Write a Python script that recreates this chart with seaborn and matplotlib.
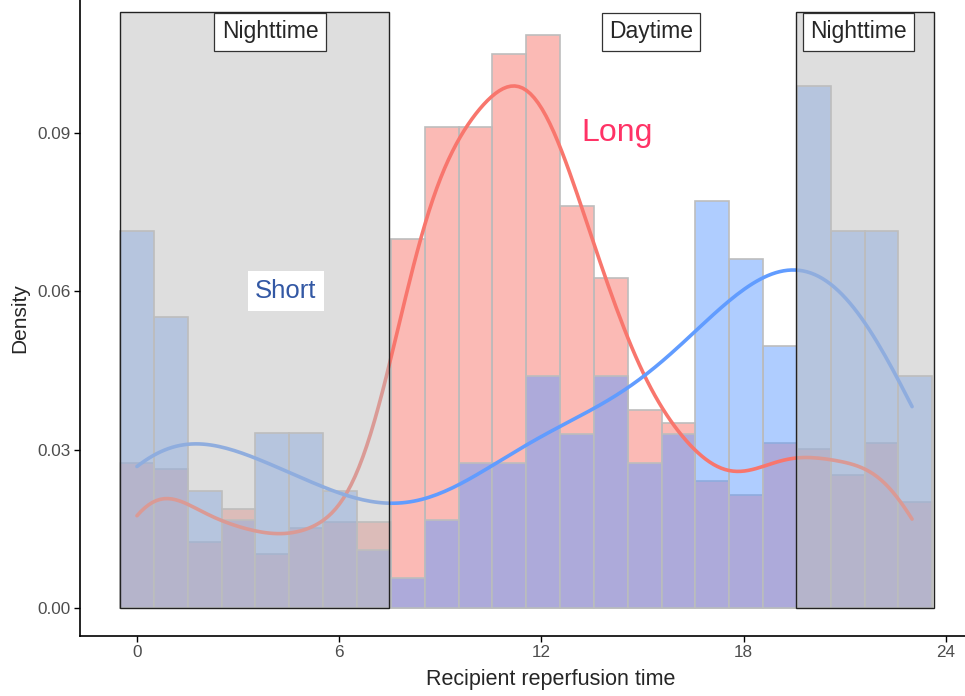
import matplotlib
matplotlib.use("Agg")
import matplotlib.pyplot as plt
import matplotlib.patches as mpatches
import seaborn as sns
import pandas as pd

# hour of day (bin centres) and density per bin
hours = list(range(24))
short_density = [0.0715, 0.0551, 0.0221, 0.0166, 0.0331, 0.0331, 0.0221, 0.0110,
                 0.0056, 0.0166, 0.0275, 0.0275, 0.0440, 0.0330, 0.0440, 0.0274,
                 0.0330, 0.0771, 0.0661, 0.0497, 0.0990, 0.0715, 0.0715, 0.0440]
long_density = [0.0275, 0.0263, 0.0126, 0.0188, 0.0102, 0.0151, 0.0163, 0.0163,
                0.0699, 0.0911, 0.0911, 0.1049, 0.1086, 0.0762, 0.0625, 0.0375,
                0.0350, 0.0240, 0.0214, 0.0313, 0.0301, 0.0252, 0.0313, 0.0201]

night_spans = [(-0.5, 7.48), (19.55, 23.65)]
period_labels = ["Nighttime", "Daytime", "Nighttime"]
period_x = [3.95, 15.25, 21.4]

RED = "#F8766D"
BLUE = "#619CFF"

long_df = pd.DataFrame({"hour": hours, "density": long_density})
short_df = pd.DataFrame({"hour": hours, "density": short_density})

sns.set_style("ticks")
plt.rcParams["font.family"] = ["Liberation Sans", "DejaVu Sans"]

fig = plt.figure(figsize=(9.65, 6.96), dpi=100)
ax = fig.add_axes([80 / 965, 60 / 696, 885 / 965, 636 / 696])

# Long first, Short layered over it (gives the purple overlap)
for d, col in [(long_df, RED), (short_df, BLUE)]:
    sns.histplot(data=d, x="hour", weights="density", bins=24,
                 binrange=(-0.5, 23.6), color=col, alpha=0.5,
                 edgecolor="#BDBDBD", linewidth=1.2, ax=ax)

sns.kdeplot(data=long_df, x="hour", weights="density",
            bw_method=0.195, cut=0, color=RED, linewidth=2.6, ax=ax)
sns.kdeplot(data=short_df, x="hour", weights="density",
            bw_method=0.30, cut=0, color=BLUE, linewidth=2.6, ax=ax)

# shaded nighttime windows drawn over the bars
for x0, x1 in night_spans:
    ax.add_patch(mpatches.Rectangle((x0, 0), x1 - x0, 0.113,
                                    facecolor="#BEBEBE", alpha=0.5,
                                    edgecolor="none", zorder=5))
    ax.add_patch(mpatches.Rectangle((x0, 0), x1 - x0, 0.113,
                                    facecolor="none", edgecolor="#222222",
                                    linewidth=1.0, zorder=6))

for lab, xp in zip(period_labels, period_x):
    ax.text(xp, 0.1092, lab, ha="center", va="center", fontsize=16.5, zorder=8,
            bbox=dict(boxstyle="square,pad=0.32", facecolor="white",
                      edgecolor="#333333", linewidth=0.9))

ax.text(14.24, 0.0900, "Long", ha="center", va="center", fontsize=23,
        color="#FF3366", zorder=8)
ax.text(4.42, 0.0601, "Short", ha="center", va="center", fontsize=18.5,
        color="#3358A4", zorder=8,
        bbox=dict(boxstyle="square,pad=0.3", facecolor="white", edgecolor="none"))

ax.set_xlim(-1.69, 24.57)
ax.set_ylim(-0.0053, 0.1152)
ax.set_xticks([0, 6, 12, 18, 24])
ax.set_yticks([0, 0.03, 0.06, 0.09])
ax.set_yticklabels(["0.00", "0.03", "0.06", "0.09"])
ax.tick_params(axis="both", colors="black", labelcolor="#4D4D4D",
               labelsize=12.3, length=4, width=1, pad=2.5)
ax.set_xlabel("Recipient reperfusion time", fontsize=15.5, va="center")
ax.xaxis.set_label_coords(0.532, -0.069)
ax.set_ylabel("Density", fontsize=15, labelpad=6)
for s in ["top", "right"]:
    ax.spines[s].set_visible(False)
for s in ["left", "bottom"]:
    ax.spines[s].set_linewidth(1.2)
    ax.spines[s].set_color("black")

fig.savefig("out.png", dpi=100)
